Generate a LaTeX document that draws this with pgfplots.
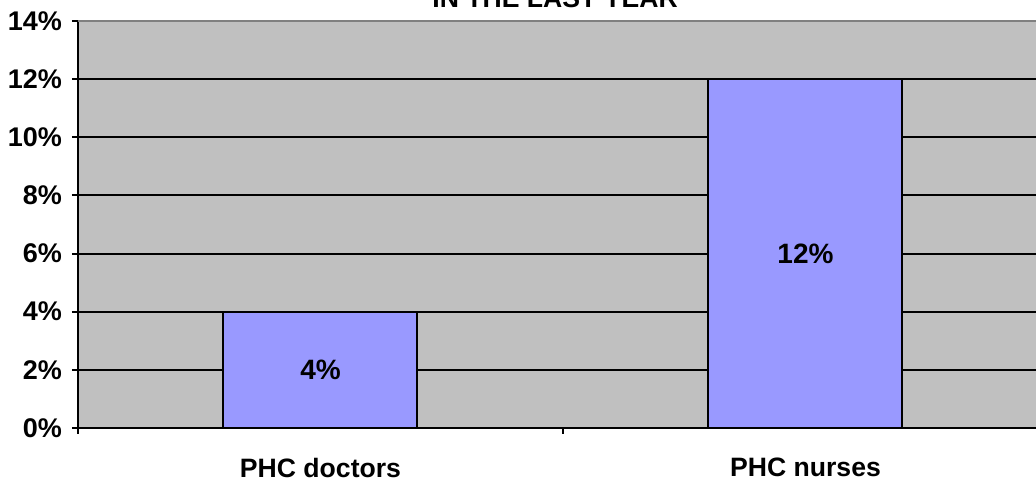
\documentclass[border=0pt]{standalone}
\usepackage{fontspec}
\setmainfont{Liberation Sans}
\usepackage{pgfplots}
\pgfplotsset{compat=1.18}
\definecolor{plotbg}{HTML}{C0C0C0}
\definecolor{barblue}{HTML}{9999FF}
\definecolor{topgray}{HTML}{808080}
\begin{document}
\begin{tikzpicture}
\begin{axis}[
  scale only axis, width=479pt, height=203.5pt,
  xmin=-0.5, xmax=1.4753, ymin=0, ymax=14,
  clip=false,
  axis background/.style={fill=plotbg},
  axis x line*=bottom, axis y line*=left,
  axis line style={black, line width=1pt},
  font=\bfseries\fontsize{13.3}{15}\selectfont,
  ytick={0,2,...,14},
  yticklabel={\pgfmathprintnumber[assume math mode=true]{\tick}\%},
  yticklabel style={xshift=-1.5pt, font=\bfseries\fontsize{13.5}{15}\selectfont},
  ymajorgrids, grid style={black, line width=1pt},
  major tick length=3pt, tick align=outside,
  y tick style={black, line width=1pt},
  xtick={0,1}, xticklabels={PHC doctors, PHC nurses},
  x tick style={draw=none},
  xticklabel style={yshift=-8.5pt},
  extra x ticks={-0.5,0.5}, extra x tick labels={},
  extra x tick style={grid=none, x tick style={draw=black, line width=1pt}},
]
\addplot[ybar, bar width=97pt, bar shift=0pt, fill=barblue, draw=black, line width=1pt]
  coordinates {(0,4) (1,12)};
\addplot[draw=none, mark=none, point meta=explicit,
  nodes near coords={\pgfmathprintnumber[assume math mode=true]{\pgfplotspointmeta}\%},
  every node near coord/.append style={anchor=center, font=\bfseries\fontsize{14}{16}\selectfont}]
  coordinates {(0,2) [4] (1,6) [12]};
\draw[topgray, line width=1pt] (rel axis cs:0,1) -- (rel axis cs:1,1);
\node[anchor=base, yshift=6.5pt] at (rel axis cs:0.498,1) {IN THE LAST YEAR};
\coordinate (bl) at (rel axis cs:0,0);
\coordinate (tr) at (rel axis cs:1,1);
\end{axis}
\pgfresetboundingbox
\useasboundingbox ([xshift=-39pt,yshift=-25.5pt]bl) rectangle ([yshift=10.5pt]tr);
\end{tikzpicture}
\end{document}
